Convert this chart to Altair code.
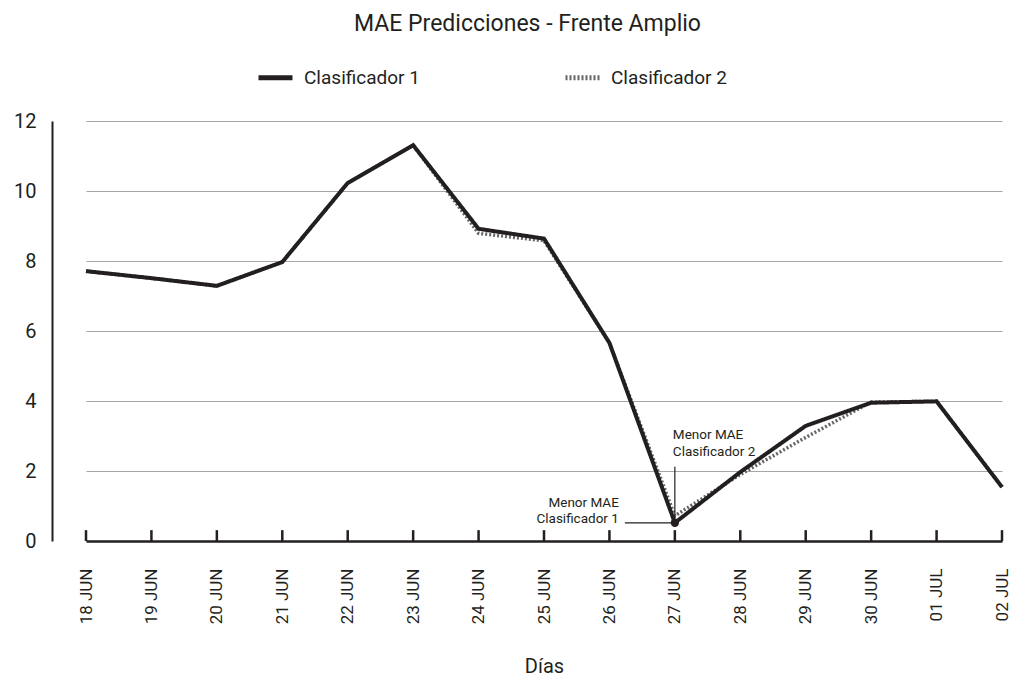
import altair as alt
import pandas as pd

dias = ["18 JUN", "19 JUN", "20 JUN", "21 JUN", "22 JUN", "23 JUN", "24 JUN", "25 JUN",
        "26 JUN", "27 JUN", "28 JUN", "29 JUN", "30 JUN", "01 JUL", "02 JUL"]
clf1 = [7.71, 7.51, 7.29, 7.97, 10.23, 11.31, 8.92, 8.64, 5.66, 0.52, 1.97, 3.29, 3.95, 3.99, 1.54]
clf2 = [7.71, 7.51, 7.29, 7.97, 10.23, 11.31, 8.79, 8.58, 5.66, 0.72, 1.90, 2.96, 3.97, 3.99, 1.54]
series = ["Clasificador 1", "Clasificador 2"]

ann2_text = ["Menor MAE", "Clasificador 2"]
ann2_y = [3.03, 2.54]
ann1_text = ["Menor MAE", "Clasificador 1"]
ann1_y = [1.09, 0.63]

DARK = "#231f20"
GRAY = "#666666"
FONT = "Roboto"

rows = []
for d, a, b in zip(dias, clf1, clf2):
    rows.append({"dia": d, "mae": a, "serie": series[0]})
    rows.append({"dia": d, "mae": b, "serie": series[1]})
df = pd.DataFrame(rows)

W, H = 967, 420
xscale = alt.Scale(type="point", domain=dias, range=[34, 950], padding=0)
yscale = alt.Scale(domain=[0, 12])

leg = alt.Legend(title=None, orient="none", direction="horizontal",
                 legendX=204, legendY=-63, symbolType="stroke",
                 symbolSize=1156, symbolStrokeWidth=5,
                 labelFontSize=19, labelFont=FONT, labelColor=DARK,
                 labelOffset=9, columnPadding=135)
color = alt.Color("serie:N", scale=alt.Scale(domain=series, range=[DARK, GRAY]), legend=leg)
dash = alt.StrokeDash("serie:N", scale=alt.Scale(domain=series, range=[[1, 0], [2, 2]]),
                      legend=leg)

xenc = alt.X("dia:N", scale=xscale, sort=dias,
             axis=alt.Axis(title="Días", labelAngle=270, labelFontSize=17, labelFont=FONT,
                           labelColor=DARK, labelPadding=27, ticks=False,
                           domainColor=DARK, domainWidth=2.5, grid=False,
                           titleFont=FONT, titleFontSize=20, titleFontWeight="normal",
                           titleColor=DARK, titlePadding=33))
yenc = alt.Y("mae:Q", scale=yscale,
             axis=alt.Axis(title=None, values=[0, 2, 4, 6, 8, 10, 12], labelFontSize=20,
                           labelFont=FONT, labelColor=DARK, labelPadding=16, ticks=False,
                           domainColor=DARK, domainWidth=2, grid=True, gridColor="#a6a6a6",
                           gridWidth=1))

base = alt.Chart(df)
line2 = base.transform_filter(alt.datum.serie == series[1]).mark_line(strokeWidth=3.5).encode(
    x=xenc, y=yenc, color=color, strokeDash=dash)
line1 = base.transform_filter(alt.datum.serie == series[0]).mark_line(strokeWidth=4).encode(
    x=xenc, y=yenc, color=color, strokeDash=dash)

ticks_df = pd.DataFrame({"dia": dias})
ticks = alt.Chart(ticks_df).mark_rule(color=DARK, strokeWidth=2.5).encode(
    x=alt.X("dia:N", scale=xscale, sort=dias), y=alt.datum(0), y2=alt.datum(0.31))

dot = alt.Chart(pd.DataFrame({"dia": [dias[9]], "mae": [clf1[9]]})).mark_point(
    filled=True, color=DARK, size=70, opacity=1).encode(
    x=alt.X("dia:N", scale=xscale, sort=dias), y=alt.Y("mae:Q", scale=yscale))

vlead = alt.Chart(pd.DataFrame({"dia": [dias[9]], "y0": [0.66], "y1": [2.12]})).mark_rule(
    color=DARK, strokeWidth=1.2).encode(
    x=alt.X("dia:N", scale=xscale, sort=dias), y=alt.Y("y0:Q", scale=yscale), y2="y1:Q")

hlead = alt.Chart(pd.DataFrame({"dia": [dias[9]], "y0": [0.52]})).mark_rule(
    color=DARK, strokeWidth=1.2, x2Offset=-50).encode(
    x=alt.X("dia:N", scale=xscale, sort=dias), x2="dia:N", y=alt.Y("y0:Q", scale=yscale))

t2 = alt.Chart(pd.DataFrame({"dia": [dias[9]] * 2, "y": ann2_y, "t": ann2_text})).mark_text(
    align="left", baseline="middle", dx=-2, fontSize=13.5, font=FONT, color=DARK).encode(
    x=alt.X("dia:N", scale=xscale, sort=dias), y=alt.Y("y:Q", scale=yscale), text="t:N")
t1 = alt.Chart(pd.DataFrame({"dia": [dias[9]] * 2, "y": ann1_y, "t": ann1_text})).mark_text(
    align="right", baseline="middle", dx=-56, fontSize=13.5, font=FONT, color=DARK).encode(
    x=alt.X("dia:N", scale=xscale, sort=dias), y=alt.Y("y:Q", scale=yscale), text="t:N")

chart = alt.layer(line2, line1, ticks, vlead, hlead, dot, t2, t1).properties(
    width=W, height=H,
    title=alt.Title("MAE Predicciones - Frente Amplio", font=FONT, fontSize=23,
                    fontWeight="normal", color=DARK, anchor="middle", offset=22, dx=-8),
    autosize=alt.AutoSizeParams(type="none"),
    padding={"left": 44, "top": 113, "right": 0, "bottom": 136},
).configure_view(stroke=None).resolve_scale(color="shared", strokeDash="shared")

chart.save("out.html", embed_options={"renderer": "svg", "actions": False})
